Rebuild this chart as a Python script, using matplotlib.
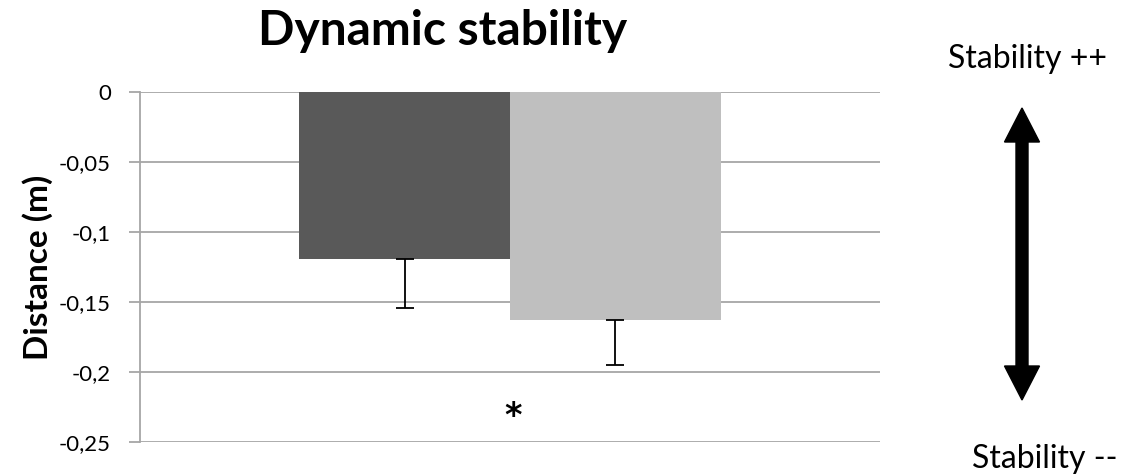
import matplotlib
matplotlib.use("Agg")
import matplotlib.pyplot as plt
from matplotlib.patches import Polygon

# Data
groups = ["Group 1", "Group 2"]
means = [-0.119, -0.163]
errors = [0.035, 0.032]
colors = ["#595959", "#bfbfbf"]
yticks = [0, -0.05, -0.1, -0.15, -0.2, -0.25]
ytick_labels = ["0", "-0,05", "-0,1", "-0,15", "-0,2", "-0,25"]
signif_mark = "*"
signif_y = -0.2315

plt.rcParams['font.family'] = ['Lato', 'DejaVu Sans']

W, H = 1132, 475
fig = plt.figure(figsize=(W / 100, H / 100), dpi=100)
ax = fig.add_axes([140 / W, 1 - 442 / H, 740 / W, 350 / H])

bar_w = 0.285
lefts = [0.215, 0.5]
for left, m, e, c in zip(lefts, means, errors, colors):
    ax.bar(left, m, width=bar_w, align="edge", color=c, zorder=2)
    ax.errorbar(left + bar_w / 2, m, yerr=[[e], [0]], fmt="none",
                ecolor="black", elinewidth=1.3, capsize=6.5, capthick=1.3, zorder=3)

ax.text(0.504, signif_y, signif_mark, ha="center", va="center",
        fontsize=24, fontweight="bold", family="DejaVu Sans")

ax.set_xlim(0, 1)
ax.set_ylim(-0.25, 0)
ax.set_yticks(yticks)
ax.set_yticklabels(ytick_labels, fontsize=16)
ax.set_xticks([])
ax.grid(axis="y", color="#a6a6a6", linewidth=1.3, zorder=0)
for s in ["top", "right", "bottom"]:
    ax.spines[s].set_visible(False)
ax.spines["left"].set_color("#a6a6a6")
ax.spines["left"].set_linewidth(1.3)
ax.tick_params(axis="y", direction="out", length=8, color="#a6a6a6", width=1.3, pad=13)
ax.set_ylabel("Distance (m)", fontsize=24, fontweight="bold")
ax.yaxis.set_label_coords(-0.118, 0.5)

fig.text(443 / W, 1 - 45 / H, "Dynamic stability", ha="center", va="baseline",
         fontsize=34.5, fontweight="bold")

# Stability direction indicator (figure pixel coordinates)
ov = fig.add_axes([0, 0, 1, 1], facecolor="none")
ov.set_xlim(0, W)
ov.set_ylim(H, 0)
ov.axis("off")
cx, top, bot = 1022, 108, 400
head_len, head_hw, shaft_hw = 34, 17.5, 6
arrow_pts = [
    (cx, top), (cx + head_hw, top + head_len), (cx + shaft_hw, top + head_len),
    (cx + shaft_hw, bot - head_len), (cx + head_hw, bot - head_len), (cx, bot),
    (cx - head_hw, bot - head_len), (cx - shaft_hw, bot - head_len),
    (cx - shaft_hw, top + head_len), (cx - head_hw, top + head_len),
]
ov.add_patch(Polygon(arrow_pts, closed=True, color="black"))
ov.text(1027, 68, "Stability ++", ha="center", va="baseline", fontsize=23)
ov.text(1045, 468, "Stability --", ha="center", va="baseline", fontsize=23)

fig.savefig("out.png", dpi=100)
